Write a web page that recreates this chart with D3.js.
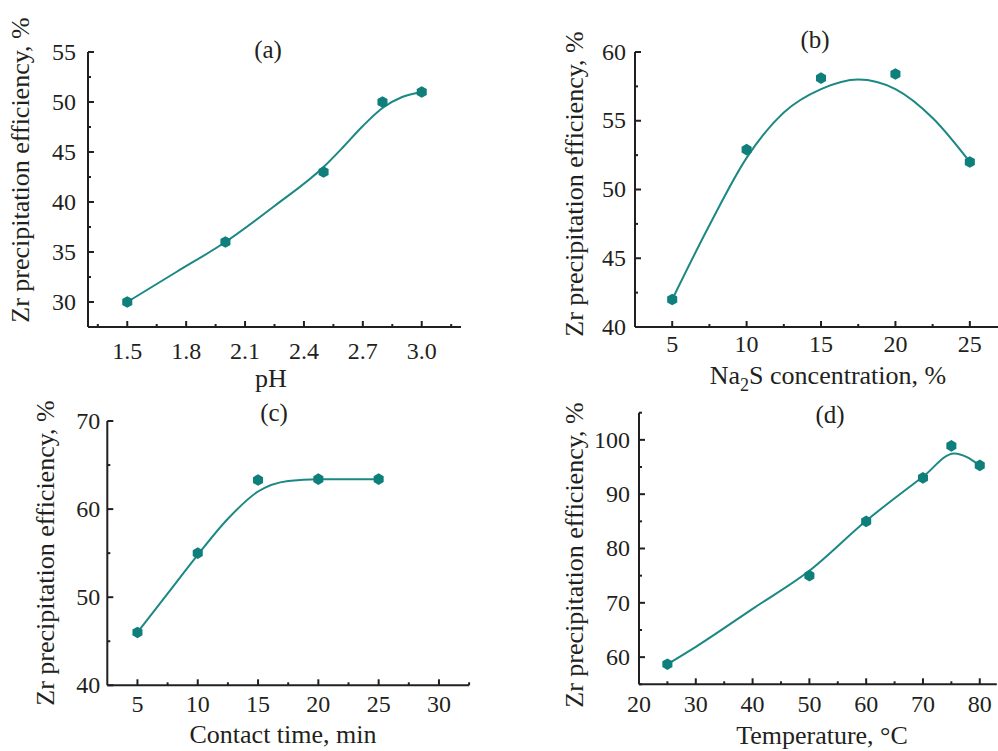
<!DOCTYPE html>
<html>
<head>
<meta charset="utf-8">
<script src="https://cdn.jsdelivr.net/npm/d3@7"></script>
<style>
  body { margin: 0; background: #fff; }
</style>
</head>
<body>
<svg id="chart" width="998" height="751"></svg>
<script>
// (a) effect of pH
var phX = [1.5, 2.0, 2.5, 2.8, 3.0]
var phY = [30, 36, 43, 50, 51]
var phFit = [[1.5, 30], [1.75, 33.0], [2.0, 36], [2.25, 39.6], [2.5, 43.5], [2.6, 45.5], [2.7, 47.6], [2.8, 49.4], [2.9, 50.5], [3.0, 51]]
var phTicksX = [1.5, 1.8, 2.1, 2.4, 2.7, 3.0]
var phTicksY = [30, 35, 40, 45, 50, 55]

// (b) effect of Na2S concentration
var naX = [5, 10, 15, 20, 25]
var naY = [42, 52.9, 58.1, 58.4, 52]
var naFit = [[5, 42], [7.5, 47.4], [10, 52.3], [12.5, 55.6], [15, 57.3], [17.5, 58.0], [20, 57.3], [22.5, 55.2], [25, 52]]
var naTicksX = [5, 10, 15, 20, 25]
var naTicksY = [40, 45, 50, 55, 60]

// (c) effect of contact time
var timeX = [5, 10, 15, 20, 25]
var timeY = [46, 55, 63.3, 63.4, 63.4]
var timeFit = [[5, 46], [7.5, 50.4], [10, 54.8], [12.5, 58.9], [15, 62.0], [17.5, 63.2], [20, 63.4], [25, 63.4]]
var timeTicksX = [5, 10, 15, 20, 25, 30]
var timeTicksY = [40, 50, 60, 70]

// (d) effect of temperature
var tempX = [25, 50, 60, 70, 75, 80]
var tempY = [58.7, 75, 85, 93, 98.9, 95.3]
var tempFit = [[25, 58.7], [30, 61.9], [40, 68.9], [50, 75.9], [60, 85.1], [70, 93.2], [75.5, 97.5], [80, 95.3]]
var tempTicksX = [20, 30, 40, 50, 60, 70, 80]
var tempTicksY = [60, 70, 80, 90, 100]

var yTitle = "Zr precipitation efficiency, %"
var font = "'Liberation Serif', 'Times New Roman', Times, serif"
var markColor = "#0e7f7b"
var lineColor = "#1b8884"
var axisColor = "#231f20"

var svg = d3.select("#chart")
svg.append("rect").attr("width", 998).attr("height", 751).attr("fill", "#fff")

var panels = [
    {
        letter: "(a)", letterPos: [268, 58],
        xs: phX, ys: phY, fit: phFit,
        xDomain: [1.3, 3.2], xRange: [88, 461],
        yDomain: [27.5, 55], yRange: [327, 52],
        xTicks: phTicksX, xMinor: [1.35, 1.65, 1.95, 2.25, 2.55, 2.85, 3.15], xFmt: d3.format(".1f"),
        yTicks: phTicksY, yMinor: [32.5, 37.5, 42.5, 47.5, 52.5],
        xPad: 15, yPad: 12,
        xTitle: ["pH"], xTitlePos: [271, 387],
        yTitlePos: [29, 170]
    },
    {
        letter: "(b)", letterPos: [815, 48],
        xs: naX, ys: naY, fit: naFit,
        xDomain: [2.5, 27], xRange: [635, 999.6],
        yDomain: [40, 60], yRange: [327, 52],
        xTicks: naTicksX, xMinor: [7.5, 12.5, 17.5, 22.5], xFmt: d3.format("d"),
        yTicks: naTicksY, yMinor: [42.5, 47.5, 52.5, 57.5],
        xPad: 8, yPad: 9,
        xTitle: ["Na", "2", "S concentration, %"], xTitlePos: [828, 384],
        yTitlePos: [583, 184]
    },
    {
        letter: "(c)", letterPos: [274, 421],
        xs: timeX, ys: timeY, fit: timeFit,
        xDomain: [2.5, 32.5], xRange: [107.3, 469.1],
        yDomain: [40, 70], yRange: [685.3, 421],
        xTicks: timeTicksX, xMinor: [7.5, 12.5, 17.5, 22.5, 27.5, 32.5], xFmt: d3.format("d"),
        yTicks: timeTicksY, yMinor: [45, 55, 65],
        xPad: 10, yPad: 7,
        xTitle: ["Contact time, min"], xTitlePos: [283, 743],
        yTitlePos: [54, 553]
    },
    {
        letter: "(d)", letterPos: [830, 423],
        xs: tempX, ys: tempY, fit: tempFit,
        xDomain: [20, 83], xRange: [639, 996.8],
        yDomain: [55, 105], yRange: [684.3, 412.7],
        xTicks: tempTicksX, xMinor: [25, 35, 45, 55, 65, 75], xFmt: d3.format("d"),
        yTicks: tempTicksY, yMinor: [55, 65, 75, 85, 95, 105],
        xPad: 11, yPad: 9,
        xTitle: ["Temperature, °C"], xTitlePos: [822, 744],
        yTitlePos: [583, 555]
    }
]

panels.forEach(drawPanel)

function hexagon(r) {
    var pts = d3.range(6).map(function(i) {
        var a = Math.PI / 3 * i - Math.PI / 2
        return [r * Math.cos(a), r * Math.sin(a)]
    })
    return "M" + pts.join("L") + "Z"
}

function drawPanel(p) {
    var x = d3.scaleLinear().domain(p.xDomain).range(p.xRange)
    var y = d3.scaleLinear().domain(p.yDomain).range(p.yRange)
    var g = svg.append("g")

    // minor ticks first, then the main axes on top
    g.append("g")
        .attr("transform", `translate(0,${p.yRange[0]})`)
        .call(d3.axisBottom(x).tickValues(p.xMinor).tickSizeInner(-3).tickSizeOuter(0).tickFormat("").offset(0))
        .call(function(s) { s.select(".domain").remove() })
    g.append("g")
        .attr("transform", `translate(${p.xRange[0]},0)`)
        .call(d3.axisLeft(y).tickValues(p.yMinor).tickSizeInner(-3).tickSizeOuter(0).tickFormat("").offset(0))
        .call(function(s) { s.select(".domain").remove() })

    var xAxis = g.append("g")
        .attr("transform", `translate(0,${p.yRange[0]})`)
        .call(d3.axisBottom(x).tickValues(p.xTicks).tickSizeInner(-6).tickSizeOuter(0)
            .tickPadding(p.xPad).tickFormat(p.xFmt).offset(0))
    var yAxis = g.append("g")
        .attr("transform", `translate(${p.xRange[0]},0)`)
        .call(d3.axisLeft(y).tickValues(p.yTicks).tickSizeInner(-6).tickSizeOuter(0)
            .tickPadding(p.yPad).offset(0))

    g.selectAll(".tick line, .domain")
        .attr("stroke", axisColor)
        .attr("stroke-width", 2)
    ;[xAxis, yAxis].forEach(function(a) {
        a.attr("font-family", font).attr("font-size", 24)
        a.selectAll("text")
            .attr("fill", axisColor)
            .style("font-family", font)
            .style("font-size", "24px")
    })

    // fitted curve
    var line = d3.line()
        .x(function(d) { return x(d[0]) })
        .y(function(d) { return y(d[1]) })
        .curve(d3.curveMonotoneX)
    g.append("path")
        .datum(p.fit)
        .attr("d", line)
        .attr("fill", "none")
        .attr("stroke", lineColor)
        .attr("stroke-width", 2)

    // experimental points
    g.selectAll(".pt")
        .data(p.xs)
        .enter()
        .append("path")
        .attr("class", "pt")
        .attr("d", hexagon(5.8))
        .attr("transform", function(d, i) { return `translate(${x(d)},${y(p.ys[i])})` })
        .attr("fill", markColor)

    // panel letter
    g.append("text")
        .attr("x", p.letterPos[0])
        .attr("y", p.letterPos[1])
        .attr("text-anchor", "middle")
        .attr("fill", axisColor)
        .style("font-family", font)
        .style("font-size", "25px")
        .text(p.letter)

    // x title (with optional subscript)
    var xt = g.append("text")
        .attr("x", p.xTitlePos[0])
        .attr("y", p.xTitlePos[1])
        .attr("text-anchor", "middle")
        .attr("fill", axisColor)
        .style("font-family", font)
        .style("font-size", "26px")
    if (p.xTitle.length == 1) {
        xt.text(p.xTitle[0])
    } else {
        xt.append("tspan").text(p.xTitle[0])
        xt.append("tspan").attr("dy", 7).style("font-size", "18px").text(p.xTitle[1])
        xt.append("tspan").attr("dy", -7).text(p.xTitle[2])
    }

    // y title
    g.append("text")
        .attr("transform", `translate(${p.yTitlePos[0]},${p.yTitlePos[1]}) rotate(-90)`)
        .attr("text-anchor", "middle")
        .attr("fill", axisColor)
        .style("font-family", font)
        .style("font-size", "26px")
        .text(yTitle)
}
</script>
</body>
</html>
